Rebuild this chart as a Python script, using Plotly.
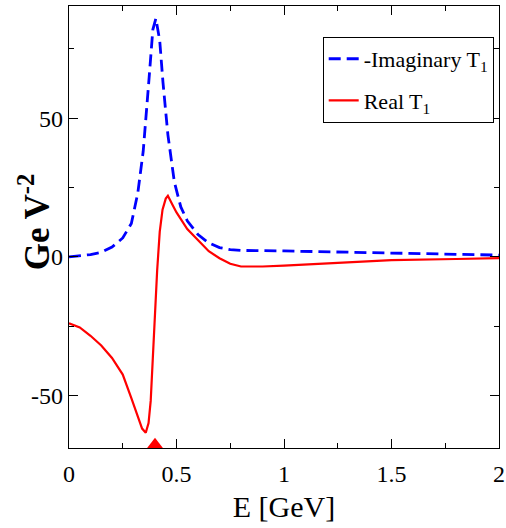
import plotly.graph_objects as go

# ---- data ----
E_imag = [0, 0.05, 0.1, 0.15, 0.2, 0.25, 0.29, 0.32, 0.345, 0.37, 0.39, 0.404, 0.422, 0.437,
          0.46, 0.49, 0.52, 0.55, 0.6, 0.65, 0.7, 0.75, 0.8, 1.0, 1.2, 1.5, 1.8, 2.0]
neg_imag_T1 = [0, 0.3, 0.8, 1.6, 3.5, 6.8, 12, 23, 38, 62, 82, 86, 78, 63,
               44, 27, 18, 13, 8, 5, 3.3, 2.6, 2.3, 2.1, 1.8, 1.4, 1.0, 0.6]

E_real = [0, 0.05, 0.1, 0.15, 0.2, 0.25, 0.29, 0.32, 0.34, 0.357, 0.37, 0.38, 0.39, 0.4,
          0.41, 0.422, 0.435, 0.45, 0.46, 0.48, 0.5, 0.55, 0.6, 0.65, 0.7, 0.75, 0.8,
          0.9, 1.0, 1.2, 1.5, 1.8, 2.0]
real_T1 = [-24, -25.5, -28.5, -32, -36.5, -42.5, -51, -58, -62, -63.5, -60, -52, -35, -20,
           -5, 9, 17, 21, 22, 19, 16, 10, 6, 2, -0.5, -2.5, -3.5,
           -3.5, -3.2, -2.5, -1.2, -0.8, -0.5]

marker_E = [0.4]
marker_y = [-68]

x_tickvals = [0, 0.5, 1, 1.5, 2]
x_ticktext = ["0", "0.5", "1", "1.5", "2"]
y_tickvals = [-50, 0, 50]
y_ticktext = ["-50", "0", "50"]

FONT = "Liberation Serif"

fig = go.Figure()
fig.add_trace(go.Scatter(x=E_imag, y=neg_imag_T1, mode="lines",
                         name="-Imaginary T<sub>1</sub>", legendgroup="imag",
                         line=dict(color="#0000ff", width=2.8, dash="12px,6px")))
fig.add_trace(go.Scatter(x=E_real, y=real_T1, mode="lines",
                         name="Real T<sub>1</sub>", legendgroup="real",
                         line=dict(color="#ff0000", width=2.2)))
fig.add_trace(go.Scatter(x=marker_E, y=marker_y, mode="markers", showlegend=False,
                         cliponaxis=False,
                         marker=dict(symbol="triangle-up", size=15, color="#ff0000")))

axis_common = dict(showline=True, linecolor="black", linewidth=1.2, mirror="allticks",
                   ticks="inside", ticklen=9, tickwidth=1, tickcolor="black",
                   showgrid=False, zeroline=False, automargin=False,
                   tickfont=dict(family=FONT, size=24, color="black"))

fig.update_xaxes(range=[0, 2], tickvals=x_tickvals, ticktext=x_ticktext,
                 ticklabelstandoff=4,
                 minor=dict(ticks="inside", ticklen=5, tickcolor="black", dtick=0.25, showgrid=False),
                 title=dict(text="E [GeV]", font=dict(family=FONT, size=30, color="black"), standoff=10),
                 **axis_common)
fig.update_yaxes(range=[-69, 90.5], tickvals=y_tickvals, ticktext=y_ticktext,
                 minor=dict(ticks="inside", ticklen=5, tickcolor="black", tickvals=[-25, 25, 75], showgrid=False),
                 **axis_common)

fig.add_annotation(text="<b>Ge V<sup>-2</sup></b>", textangle=-90, xref="paper", yref="paper",
                   x=-0.081, y=0.511, xanchor="center", yanchor="middle", showarrow=False,
                   font=dict(family=FONT, size=35, color="black"))

fig.update_layout(
    width=506, height=528,
    margin=dict(l=69, r=7, t=6, b=80),
    plot_bgcolor="white", paper_bgcolor="white",
    showlegend=True,
    legend=dict(x=0.59, y=0.93, xanchor="left", yanchor="top",
                bordercolor="black", borderwidth=1, bgcolor="white",
                font=dict(family=FONT, size=22, color="black"),
                itemwidth=30, tracegroupgap=10),
)

fig.write_html("out.html", config={"displayModeBar": False},
               post_script="document.body.style.margin='0px';")
